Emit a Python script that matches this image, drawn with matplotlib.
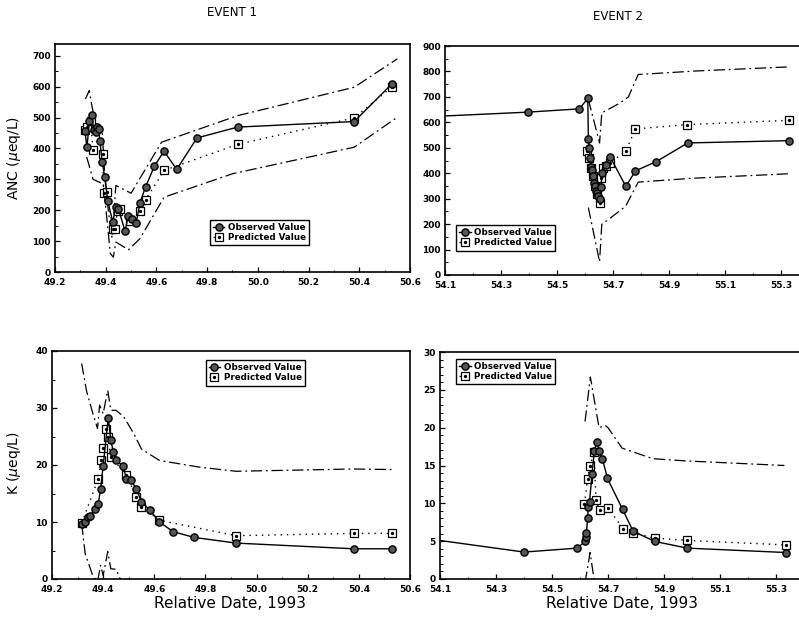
import matplotlib
matplotlib.use("Agg")
import matplotlib.pyplot as plt
import numpy as np
from matplotlib.ticker import MultipleLocator, FormatStrFormatter
from matplotlib.legend_handler import HandlerTuple

# ---------------- data ----------------
# Event 1 ANC
anc1_obs_x = [49.318, 49.326, 49.336, 49.345, 49.352, 49.360, 49.366, 49.372, 49.377, 49.386,
              49.396, 49.408, 49.428, 49.440, 49.450, 49.476, 49.489, 49.502, 49.520, 49.535,
              49.557, 49.592, 49.630, 49.680, 49.760, 49.920, 50.380, 50.530]
anc1_obs_v = [455, 404, 490, 508, 460, 452, 470, 463, 425, 357,
              308, 230, 162, 212, 205, 133, 180, 170, 158, 224,
              275, 343, 391, 332, 434, 469, 487, 610]
anc1_pred_x = [49.318, 49.325, 49.340, 49.350, 49.388, 49.392, 49.404, 49.428, 49.436, 49.447,
               49.455, 49.496, 49.535, 49.557, 49.631, 49.920, 50.380, 50.530]
anc1_pred_v = [460, 470, 490, 395, 382, 256, 260, 140, 140, 199,
               204, 165, 199, 234, 329, 413, 499, 600]
anc1_up_x = [49.320, 49.335, 49.345, 49.360, 49.385, 49.395, 49.410, 49.425, 49.440, 49.500,
             49.620, 49.920, 50.380, 50.550]
anc1_up_v = [560, 587, 540, 480, 470, 330, 200, 110, 280, 255, 420, 506, 598, 690]
anc1_lo_x = [49.325, 49.350, 49.390, 49.405, 49.418, 49.430, 49.440, 49.490, 49.535, 49.630,
             49.900, 50.380, 50.550]
anc1_lo_v = [372, 300, 285, 170, 60, 48, 97, 72, 108, 242, 318, 404, 501]

# Event 2 ANC
anc2_obs_x = [54.000, 54.395, 54.580, 54.610, 54.612, 54.615, 54.619, 54.622, 54.625, 54.628,
              54.631, 54.634, 54.638, 54.642, 54.647, 54.652, 54.656, 54.662, 54.675, 54.690,
              54.746, 54.780, 54.855, 54.967, 55.330]
anc2_obs_v = [620, 640, 653, 694, 535, 499, 459, 426, 414, 388,
              362, 348, 330, 322, 310, 300, 345, 400, 433, 464,
              348, 409, 446, 519, 528]
anc2_pred_x = [54.608, 54.615, 54.622, 54.630, 54.637, 54.644, 54.652, 54.658, 54.665, 54.675,
               54.688, 54.745, 54.780, 54.963, 55.330]
anc2_pred_v = [489, 460, 420, 390, 350, 320, 283, 380, 420, 430, 440, 486, 574, 591, 608]
anc2_up_x = [54.612, 54.652, 54.660, 54.725, 54.755, 54.790, 55.000, 55.330]
anc2_up_v = [690, 519, 637, 676, 700, 788, 802, 818]
anc2_lo_x = [54.612, 54.652, 54.660, 54.680, 54.745, 54.790, 54.980, 55.330]
anc2_lo_v = [265, 52, 200, 215, 270, 365, 380, 398]

# Event 1 K
k1_obs_x = [49.316, 49.328, 49.342, 49.350, 49.368, 49.381, 49.390, 49.400, 49.420, 49.430,
            49.440, 49.450, 49.479, 49.490, 49.510, 49.530, 49.550, 49.583, 49.620, 49.674,
            49.755, 49.920, 50.380, 50.530]
k1_obs_v = [9.6, 10.0, 10.8, 11.1, 12.3, 13.2, 15.8, 19.8, 28.3, 24.3,
            22.3, 20.8, 19.8, 17.6, 17.3, 15.8, 13.5, 12.1, 10.0, 8.3,
            7.3, 6.3, 5.3, 5.3]
k1_pred_x = [49.316, 49.381, 49.392, 49.400, 49.412, 49.418, 49.430, 49.490, 49.530, 49.550,
             49.620, 49.920, 50.380, 50.530]
k1_pred_v = [9.8, 17.6, 20.8, 23.0, 26.4, 25.0, 21.4, 18.3, 14.4, 12.7, 10.3, 7.6, 8.0, 8.0]
k1_up_x = [49.316, 49.335, 49.360, 49.378, 49.386, 49.400, 49.418, 49.430, 49.450, 49.480,
           49.520, 49.550, 49.620, 49.780, 49.920, 50.380, 50.530]
k1_up_v = [37.8, 33.0, 29.0, 26.4, 30.5, 29.0, 33.1, 29.6, 29.6, 28.5,
           25.5, 22.8, 20.8, 19.6, 18.9, 19.3, 19.2]
k1_lo_x = [49.316, 49.330, 49.360, 49.378, 49.390, 49.400, 49.418, 49.430, 49.450, 49.475]
k1_lo_v = [9.7, 4.4, 0.5, -0.5, 2.4, 0.6, 4.8, 1.8, 1.7, -0.8]

# Event 2 K
k2_obs_x = [54.000, 54.400, 54.590, 54.618, 54.620, 54.623, 54.627, 54.630, 54.634, 54.643,
            54.651, 54.660, 54.669, 54.680, 54.698, 54.752, 54.790, 54.868, 54.983, 55.335]
k2_obs_v = [5.6, 3.56, 4.08, 4.96, 5.6, 6.06, 8.0, 9.5, 10.2, 13.9,
            16.9, 18.1, 16.9, 15.9, 13.3, 9.2, 6.3, 4.96, 4.08, 3.5]
k2_pred_x = [54.616, 54.627, 54.636, 54.650, 54.657, 54.671, 54.700, 54.755, 54.790, 54.868,
             54.983, 55.337]
k2_pred_v = [9.9, 13.2, 15.0, 16.8, 10.4, 9.1, 9.4, 6.6, 6.1, 5.4, 5.1, 4.5]
k2_up_x = [54.618, 54.637, 54.668, 54.690, 54.700, 54.750, 54.860, 54.980, 55.330]
k2_up_v = [20.8, 26.7, 20.0, 20.3, 20.0, 17.3, 15.9, 15.6, 15.0]
k2_lo_x = [54.618, 54.636, 54.652]
k2_lo_v = [-0.5, 3.5, -0.5]

titles = ["EVENT 1", "EVENT 2"]
ylabels = ["ANC ($\\mu$eq/L)", "K ($\\mu$eq/L)"]
xlabel = "Relative Date, 1993"
legend_labels = ["Observed Value", "Predicted Value"]

# ---------------- figure ----------------
W, H = 799, 617
fig = plt.figure(figsize=(W / 100, H / 100), dpi=100)

def rect(l, t, w, h):
    return [l / W, 1 - (t + h) / H, w / W, h / H]

ax_tl = fig.add_axes(rect(55, 44, 355, 228))
ax_tr = fig.add_axes(rect(445, 46, 364, 229))
ax_bl = fig.add_axes(rect(52, 351, 358, 228))
ax_br = fig.add_axes(rect(440, 352, 364, 227))

env_dash = (0, (9, 3, 1.5, 3))

def draw(ax, ox, ov, px, pv, ux, uv, lx, lv, xlim, ylim, ymaj, ymin_, leg_anchor):
    ax.plot(ux, uv, color="black", lw=0.9, linestyle=env_dash)
    ax.plot(lx, lv, color="black", lw=0.9, linestyle=env_dash)
    lp, = ax.plot(px, pv, color="black", lw=1.0, linestyle=(0, (1, 3.5)),
                  marker="s", ms=5.2, mfc="white", mec="black", mew=0.9, zorder=3)
    dp, = ax.plot(px, pv, linestyle="none", marker="o", ms=1.4, mfc="black",
                  mec="black", zorder=4)
    lo, = ax.plot(ox, ov, color="black", lw=1.0, marker="o", ms=5.2,
                  mfc="#555555", mec="black", mew=1.0, zorder=5)
    ax.set_xlim(*xlim)
    ax.set_ylim(*ylim)
    ax.yaxis.set_major_locator(MultipleLocator(ymaj))
    ax.yaxis.set_minor_locator(MultipleLocator(ymin_))
    ax.tick_params(which="major", direction="in", length=3.5, width=0.9,
                   labelsize=6.5)
    ax.tick_params(axis="x", which="major", pad=4)
    ax.tick_params(axis="y", which="major", pad=3)
    ax.tick_params(which="minor", direction="in", length=1.8, width=0.7)
    for s in ax.spines.values():
        s.set_linewidth(1.2)
    leg = ax.legend([lo, (lp, dp)], legend_labels,
                    handler_map={tuple: HandlerTuple(ndivide=1)},
                    loc="upper left", bbox_to_anchor=leg_anchor,
                    prop={"size": 6.3, "weight": "bold"}, frameon=True,
                    fancybox=False, edgecolor="black", framealpha=1,
                    handlelength=1.3, handletextpad=0.4, borderpad=0.35,
                    labelspacing=0.15, borderaxespad=0)
    leg.get_frame().set_linewidth(1.0)

draw(ax_tl, anc1_obs_x, anc1_obs_v, anc1_pred_x, anc1_pred_v, anc1_up_x, anc1_up_v,
     anc1_lo_x, anc1_lo_v, (49.2, 50.6), (0, 738), 100, 50, (0.436, 0.228))
draw(ax_tr, anc2_obs_x, anc2_obs_v, anc2_pred_x, anc2_pred_v, anc2_up_x, anc2_up_v,
     anc2_lo_x, anc2_lo_v, (54.1, 55.4), (0, 900), 100, 50, (0.031, 0.218))
draw(ax_bl, k1_obs_x, k1_obs_v, k1_pred_x, k1_pred_v, k1_up_x, k1_up_v,
     k1_lo_x, k1_lo_v, (49.2, 50.6), (0, 40), 10, 5, (0.429, 0.96))
draw(ax_br, k2_obs_x, k2_obs_v, k2_pred_x, k2_pred_v, k2_up_x, k2_up_v,
     k2_lo_x, k2_lo_v, (54.1, 55.4), (0, 30), 5, 1, (0.045, 0.97))

for ax in (ax_tl, ax_bl):
    ax.xaxis.set_major_locator(MultipleLocator(0.2))
    ax.xaxis.set_minor_locator(MultipleLocator(0.1))
    ax.xaxis.set_major_formatter(FormatStrFormatter("%.1f"))
for ax in (ax_tr, ax_br):
    majors = np.arange(54.1, 55.31, 0.2)
    ax.set_xticks(majors)
    ax.set_xticks(np.arange(54.2, 55.41, 0.2), minor=True)
    ax.set_xticklabels(["%.1f" % v for v in majors])
for ax in (ax_tl, ax_tr, ax_bl, ax_br):
    for lab in ax.get_xticklabels() + ax.get_yticklabels():
        lab.set_fontweight("bold")
        lab.set_fontsize(6.5)

fig.text(232 / W, 1 - 13 / H, titles[0], ha="center", va="center", fontsize=8.5)
fig.text(618 / W, 1 - 17 / H, titles[1], ha="center", va="center", fontsize=8.5)
fig.text(14 / W, 1 - 158 / H, ylabels[0], rotation=90, ha="center", va="center",
         fontsize=10)
fig.text(14 / W, 1 - 463 / H, ylabels[1], rotation=90, ha="center", va="center",
         fontsize=10)
fig.text(230 / W, 1 - 604 / H, xlabel, ha="center", va="center", fontsize=11)
fig.text(622 / W, 1 - 604 / H, xlabel, ha="center", va="center", fontsize=11)

fig.savefig("out.png", dpi=100)
